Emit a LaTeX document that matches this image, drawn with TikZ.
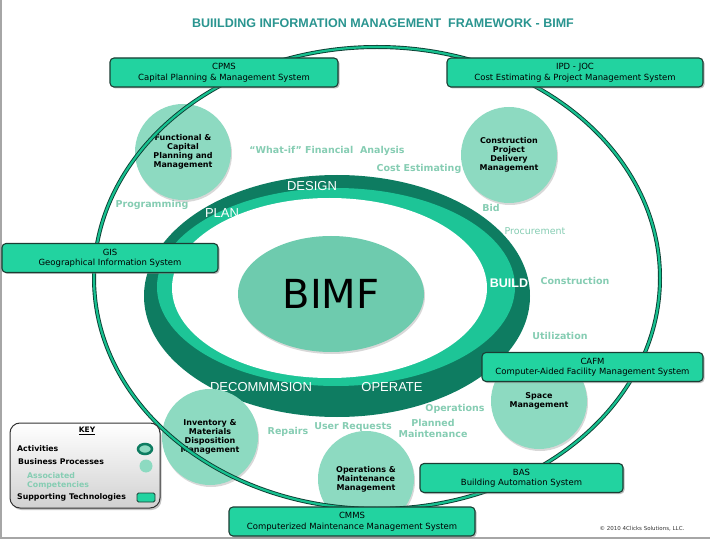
\documentclass[tikz,border=0pt]{standalone}
\usepackage{fontspec}
\setmainfont{DejaVu Sans}
\newfontfamily\arialfont{Liberation Sans}
\usetikzlibrary{shapes.geometric, shadows, positioning}
\definecolor{techgreen}{HTML}{22D3A0}
\definecolor{techline}{HTML}{1B3D33}
\definecolor{procfill}{HTML}{8DDAC1}
\definecolor{bimffill}{HTML}{6ECBAE}
\definecolor{banddark}{HTML}{0E7C61}
\definecolor{bandlight}{HTML}{1DC597}
\definecolor{ringdark}{HTML}{0B3F33}
\definecolor{ringgreen}{HTML}{17C08F}
\definecolor{compgreen}{HTML}{86CDB3}
\definecolor{titleteal}{HTML}{2A9590}
\tikzset{
  tech/.style={
    rectangle, rounded corners=4pt,
    minimum height=29pt, inner sep=1pt,
    align=center, draw=techline, line width=1.1pt,
    fill=techgreen, font=\fontsize{8.5}{10.5}\selectfont,
    drop shadow={shadow xshift=1.5pt, shadow yshift=-1.5pt, fill=black!50},
  },
  process/.style={
    circle, minimum size=96pt, inner sep=0pt,
    align=center, fill=procfill, font=\fontsize{8}{9}\selectfont\bfseries,
    drop shadow={shadow xshift=1pt, shadow yshift=-2pt, fill=black!30},
  },
  competency/.style={text=compgreen, font=\fontsize{9.5}{11}\selectfont\bfseries, inner sep=0pt, align=center},
  phase/.style={text=white, font=\arialfont\fontsize{13}{15}\selectfont, inner sep=0pt},
  ring/.style={draw=ringdark, line width=0.9pt, double=ringgreen, double distance=2.2pt},
  keylabel/.style={font=\fontsize{7.8}{9}\selectfont\bfseries, inner sep=0pt, anchor=west},
}
\begin{document}
\begin{tikzpicture}[x=1pt, y=-1pt]
  \useasboundingbox (0,0) rectangle (710,540);
  \fill[white] (0,0) rectangle (710,540);
  \draw[black!35, line width=1.5pt] (1,0) -- (1,538) -- (710,538);

  \node[text=titleteal, font=\arialfont\bfseries\fontsize{12.5}{14}\selectfont] (title) at (383,23)
    {BUIILDING INFORMATION MANAGEMENT\ \ FRAMEWORK - BIMF};

  % lifecycle band
  \fill[banddark] (337,296) ellipse [x radius=193, y radius=121];
  \fill[bandlight] (336,287) ellipse [x radius=179, y radius=99];
  \fill[white] (329.5,288) ellipse [x radius=157.5, y radius=90];
  \node[ellipse, fill=bimffill, minimum width=186pt, minimum height=116pt,
    drop shadow={shadow xshift=1pt, shadow yshift=-2pt, fill=black!30},
    font=\fontsize{40}{40}\selectfont] (bimf) at (331,294) {BIMF};

  \node[phase] (design) at (312,186) {DESIGN};
  \node[phase] (plan) at (222,213) {PLAN};
  \node[phase, font=\arialfont\bfseries\fontsize{12.5}{14}\selectfont] (build) at (509,283) {BUILD};
  \node[phase] (decommission) at (261,387) {DECOMMMSION};
  \node[phase] (operate) at (392,387) {OPERATE};

  % business processes
  \node[process] (planning) at (183,152) {Functional \&\\Capital\\Planning and\\Management};
  \node[process] (delivery) at (509,155) {Construction\\Project\\Delivery\\Management};
  \node[process] (space) at (539,401) {Space\\Management};
  \node[process] (operations) at (366,479) {Operations \&\\Maintenance\\Management};
  \node[process] (inventory) at (210,437) {Inventory \&\\Materials\\Disposition\\Management};

  % competencies
  \node[competency] (programming) at (152,205) {Programming};
  \node[competency] (whatif) at (327,151) {“What-if” Financial\ \ Analysis};
  \node[competency] (costest) at (419,169) {Cost Estimating};
  \node[competency] (bid) at (491,208) {Bid};
  \node[competency, font=\fontsize{9.5}{11}\selectfont] (procurement) at (535,231) {Procurement};
  \node[competency] (construction) at (575,281) {Construction};
  \node[competency] (utilization) at (560,336) {Utilization};
  \node[competency] (operationsc) at (455,409) {Operations};
  \node[competency] (planned) at (433,428) {Planned\\Maintenance};
  \node[competency] (requests) at (353,427) {User Requests};
  \node[competency] (repairs) at (288,432) {Repairs};

  \draw[ring] (377,278) ellipse [x radius=283, y radius=231];

  % supporting technologies
  \node[tech, minimum width=228pt] (cpms) at (224,72.5) {CPMS\\Capital Planning \& Management System};
  \node[tech, minimum width=256pt] (ipd) at (575,72.5) {IPD - JOC\\Cost Estimating \& Project Management System};
  \node[tech, minimum width=216pt] (gis) at (110,258) {GIS\\Geographical Information System};
  \node[tech, minimum width=221pt] (cafm) at (592.5,367) {CAFM\\Computer-Aided Facility Management System};
  \node[tech, minimum width=203pt] (bas) at (521.5,478) {BAS\\Building Automation System};
  \node[tech, minimum width=246pt] (cmms) at (352,521.5) {CMMS\\Computerized Maintenance Management System};

  % key
  \node[rectangle, rounded corners=10pt, draw=black!80, line width=1pt,
    top color=white, bottom color=black!18, minimum width=150pt, minimum height=85pt,
    drop shadow={shadow xshift=1.5pt, shadow yshift=-2pt, fill=black!45}] (key) at (85,465.5) {};
  \node[font=\fontsize{7.5}{9}\selectfont\bfseries] (keytitle) at (87,431) {\underline{KEY}};
  \node[keylabel] (activities) at (17,449) {Activities};
  \node[keylabel] (processes) at (18,462) {Business Processes};
  \node[keylabel, text=compgreen, align=left] (competencies) at (27,481) {Associated\\Competencies};
  \node[keylabel] (technologies) at (17,497) {Supporting Technologies};
  \node[ellipse, draw=banddark, line width=2.5pt, fill=procfill, minimum width=14pt, minimum height=10pt] (activityicon) at (145,449) {};
  \node[circle, fill=procfill, minimum size=13pt, inner sep=0pt] (processicon) at (146,466) {};
  \node[rectangle, rounded corners=1.5pt, draw=techline, line width=0.9pt, fill=techgreen,
    minimum width=18pt, minimum height=9pt, inner sep=0pt] (techicon) at (146,497.5) {};

  \node[font=\fontsize{5.5}{6}\selectfont, text=black!80] (copyright) at (642,529) {© 2010 4Clicks Solutions, LLC.};
\end{tikzpicture}
\end{document}
